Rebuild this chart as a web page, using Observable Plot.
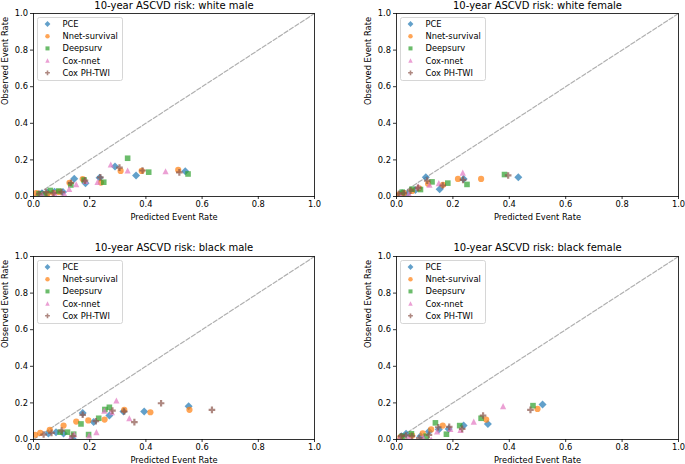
<!DOCTYPE html>
<html><head><meta charset="utf-8">
<script src="https://cdn.jsdelivr.net/npm/d3@7"></script>
<script src="https://cdn.jsdelivr.net/npm/@observablehq/plot@0.6"></script>
<style>
body{margin:0;background:#fff;}
#fig{position:relative;width:685px;height:464px;font-family:"DejaVu Sans",sans-serif;}
.panel{position:absolute;}
.legend{position:absolute;}
</style>
</head><body><div id="fig"></div>
<script>
const models = ["PCE","Nnet-survival","Deepsurv","Cox-nnet","Cox PH-TWI"];
const colors = ["#1f77b4","#ff7f0e","#2ca02c","#e377c2","#8c564b"];
const titles = ["10-year ASCVD risk: white male","10-year ASCVD risk: white female","10-year ASCVD risk: black male","10-year ASCVD risk: black female"];
const xLabel = "Predicted Event Rate";
const yLabel = "Observed Event Rate";
const tickValues = [0,0.2,0.4,0.6,0.8,1.0];
const diagonal = [0,1];

// [predicted, observed]
const whiteMale_PCE = [[0.03,0.018],[0.05,0.02],[0.075,0.026],[0.105,0.025],[0.145,0.097],[0.185,0.072],[0.235,0.103],[0.29,0.164],[0.365,0.115],[0.54,0.138]];
const whiteMale_Nnet = [[0.01,0.018],[0.05,0.015],[0.07,0.02],[0.09,0.024],[0.128,0.075],[0.175,0.095],[0.24,0.076],[0.31,0.14],[0.385,0.14],[0.515,0.145]];
const whiteMale_Deepsurv = [[0.02,0.015],[0.04,0.012],[0.06,0.033],[0.09,0.03],[0.133,0.063],[0.18,0.09],[0.25,0.078],[0.335,0.209],[0.41,0.133],[0.55,0.123]];
const whiteMale_CoxNnet = [[0.03,0.012],[0.075,0.018],[0.11,0.015],[0.127,0.042],[0.152,0.067],[0.185,0.085],[0.228,0.08],[0.275,0.175],[0.335,0.142],[0.47,0.138]];
const whiteMale_CoxPH = [[0.02,0.015],[0.044,0.024],[0.071,0.018],[0.1,0.024],[0.133,0.075],[0.183,0.087],[0.238,0.105],[0.306,0.158],[0.388,0.142],[0.519,0.132]];

const whiteFemale_PCE = [[0.01,0.01],[0.02,0.018],[0.038,0.015],[0.067,0.036],[0.104,0.105],[0.153,0.04],[0.238,0.096],[0.432,0.105]];
const whiteFemale_Nnet = [[0.008,0.011],[0.026,0.018],[0.055,0.03],[0.08,0.045],[0.112,0.07],[0.165,0.064],[0.218,0.096],[0.3,0.096]];
const whiteFemale_Deepsurv = [[0.02,0.024],[0.055,0.04],[0.085,0.038],[0.126,0.08],[0.182,0.073],[0.25,0.066],[0.383,0.12]];
const whiteFemale_CoxNnet = [[0.014,0.005],[0.044,0.015],[0.077,0.055],[0.117,0.065],[0.15,0.073],[0.235,0.131]];
const whiteFemale_CoxPH = [[0.008,0.015],[0.026,0.018],[0.05,0.033],[0.076,0.047],[0.109,0.087],[0.164,0.06],[0.236,0.091],[0.396,0.115]];

const blackMale_PCE = [[0.053,0.033],[0.08,0.04],[0.107,0.033],[0.139,0.004],[0.175,0.145],[0.214,0.095],[0.27,0.131],[0.32,0.153],[0.394,0.153],[0.552,0.182]];
const blackMale_Nnet = [[0.006,0.026],[0.024,0.036],[0.058,0.053],[0.107,0.076],[0.152,0.098],[0.195,0.104],[0.253,0.109],[0.323,0.162],[0.416,0.149],[0.555,0.162]];
const blackMale_Deepsurv = [[0.095,0.04],[0.121,0.04],[0.143,0.029],[0.169,0.085],[0.196,0.027],[0.232,0.116],[0.254,0.164],[0.27,0.176]];
const blackMale_CoxNnet = [[0.131,0.007],[0.145,0.029],[0.198,0.022],[0.224,0.04],[0.252,0.158],[0.279,0.149],[0.295,0.213],[0.341,0.116]];
const blackMale_CoxPH = [[0.036,0.027],[0.064,0.036],[0.1,0.049],[0.139,0.018],[0.175,0.135],[0.222,0.1],[0.281,0.158],[0.323,0.153],[0.359,0.095],[0.454,0.198],[0.635,0.162]];

const blackFemale_PCE = [[0.017,0.018],[0.034,0.031],[0.085,0.018],[0.115,0.044],[0.15,0.055],[0.185,0.058],[0.238,0.076],[0.324,0.085],[0.518,0.191]];
const blackFemale_Nnet = [[0.014,0.013],[0.055,0.022],[0.093,0.033],[0.123,0.055],[0.164,0.076],[0.318,0.109],[0.5,0.167]];
const blackFemale_Deepsurv = [[0.02,0.018],[0.053,0.031],[0.105,0.018],[0.138,0.091],[0.177,0.029],[0.224,0.076],[0.3,0.116],[0.484,0.185]];
const blackFemale_CoxNnet = [[0.012,0.009],[0.044,0.013],[0.094,0.013],[0.123,0.0],[0.144,0.044],[0.191,0.058],[0.227,0.053],[0.274,0.098],[0.378,0.182]];
const blackFemale_CoxPH = [[0.017,0.018],[0.034,0.022],[0.055,0.018],[0.081,0.007],[0.115,0.025],[0.148,0.067],[0.187,0.069],[0.233,0.058],[0.307,0.131],[0.475,0.162]];

const panelSeries = [
  [whiteMale_PCE, whiteMale_Nnet, whiteMale_Deepsurv, whiteMale_CoxNnet, whiteMale_CoxPH],
  [whiteFemale_PCE, whiteFemale_Nnet, whiteFemale_Deepsurv, whiteFemale_CoxNnet, whiteFemale_CoxPH],
  [blackMale_PCE, blackMale_Nnet, blackMale_Deepsurv, blackMale_CoxNnet, blackMale_CoxPH],
  [blackFemale_PCE, blackFemale_Nnet, blackFemale_Deepsurv, blackFemale_CoxNnet, blackFemale_CoxPH]
];

// matplotlib-like marker shapes
function sym(fn){ return {draw(ctx,size){ fn(ctx, Math.sqrt(size/Math.PI)); }}; }
const mDiamond = sym((c,r)=>{c.moveTo(0,-r);c.lineTo(r,0);c.lineTo(0,r);c.lineTo(-r,0);c.closePath();});
const mCircle = sym((c,r)=>{c.moveTo(r,0);c.arc(0,0,r,0,2*Math.PI);c.closePath();});
const mSquare = sym((c,r)=>{c.moveTo(-r,-r);c.lineTo(r,-r);c.lineTo(r,r);c.lineTo(-r,r);c.closePath();});
const mTriangle = sym((c,r)=>{c.moveTo(0,-r);c.lineTo(r,r);c.lineTo(-r,r);c.closePath();});
const mPlus = sym((c,r)=>{const w=r/3;
  c.moveTo(-w,-r);c.lineTo(w,-r);c.lineTo(w,-w);c.lineTo(r,-w);c.lineTo(r,w);c.lineTo(w,w);
  c.lineTo(w,r);c.lineTo(-w,r);c.lineTo(-w,w);c.lineTo(-r,w);c.lineTo(-r,-w);c.lineTo(-w,-w);c.closePath();});
const symbols = [mDiamond, mCircle, mSquare, mTriangle, mPlus];
const radii = [4.0, 3.1, 2.8, 3.1, 3.3];
const alpha = 0.7;

const layout = [
  {left:0, top:0, width:340, mL:33, mR:26, mT:13, mB:36, titleDy:-8},
  {left:340, top:0, width:345, mL:56, mR:7, mT:13, mB:36, titleDy:-8},
  {left:0, top:232, width:340, mL:33, mR:26, mT:24, mB:25, titleDy:-9},
  {left:340, top:232, width:345, mL:56, mR:7, mT:24, mB:25, titleDy:-9}
];

const fig = document.getElementById("fig");
layout.forEach((L, i) => {
  const dots = panelSeries[i].map((data, k) => Plot.dot(data, {
    x: d => d[0], y: d => d[1], symbol: symbols[k], r: radii[k],
    fill: colors[k], fillOpacity: alpha, stroke: "none", clip: true
  }));
  const chart = Plot.plot({
    width: L.width, height: 232,
    marginLeft: L.mL, marginRight: L.mR, marginTop: L.mT, marginBottom: L.mB,
    x: {domain: [0,1]}, y: {domain: [0,1]},
    style: {fontFamily: "DejaVu Sans", fontSize: "8.3px", color: "#000", background: "transparent", overflow: "visible"},
    marks: [
      Plot.line(diagonal, {x: d => d, y: d => d, stroke: "#b0b0b0", strokeWidth: 1.2, strokeDasharray: "4.5,2"}),
      ...dots,
      Plot.frame({stroke: "#000", strokeWidth: 0.8}),
      Plot.axisX({ticks: tickValues, tickFormat: d3.format(".1f"), tickSize: 3, tickPadding: 2, strokeWidth: 0.8, label: null}),
      Plot.axisY({ticks: tickValues, tickFormat: d3.format(".1f"), tickSize: 3, tickPadding: 2.5, strokeWidth: 0.8, label: null}),
      Plot.text([titles[i]], {text: d => d, frameAnchor: "top", dy: L.titleDy, fontSize: 10, lineAnchor: "middle"}),
      Plot.text([xLabel], {text: d => d, frameAnchor: "bottom", dy: 21, lineAnchor: "middle"}),
      Plot.text([yLabel], {text: d => d, frameAnchor: "left", dx: -28, rotate: -90, lineAnchor: "middle"})
    ]
  });
  const wrap = document.createElement("div");
  wrap.className = "panel";
  wrap.style.left = L.left + "px";
  wrap.style.top = L.top + "px";
  wrap.appendChild(chart);
  fig.appendChild(wrap);

  // legend box (upper-left inside axes)
  const lw = 86, lh = 64;
  const leg = d3.create("svg").attr("width", lw).attr("height", lh)
    .attr("class", "legend")
    .style("left", (L.left + L.mL + 4) + "px")
    .style("top", (L.top + L.mT + 4) + "px")
    .style("position", "absolute");
  leg.append("rect").attr("x", 0.5).attr("y", 0.5).attr("width", lw - 1).attr("height", lh - 1)
    .attr("rx", 2).attr("fill", "rgba(255,255,255,0.8)").attr("stroke", "#cccccc").attr("stroke-width", 0.8);
  models.forEach((m, k) => {
    const cy = 7 + k * 12.2;
    const r = radii[k] * 0.72;
    const p = d3.path();
    symbols[k].draw(p, r * r * Math.PI);
    leg.append("path").attr("d", p.toString()).attr("transform", `translate(10.5,${cy})`)
      .attr("fill", colors[k]).attr("fill-opacity", alpha);
    leg.append("text").attr("x", 25.5).attr("y", cy).attr("dy", "0.35em")
      .attr("font-family", "DejaVu Sans").attr("font-size", "8.3px").attr("fill", "#000").text(m);
  });
  fig.appendChild(leg.node());
});
</script>
</body></html>
